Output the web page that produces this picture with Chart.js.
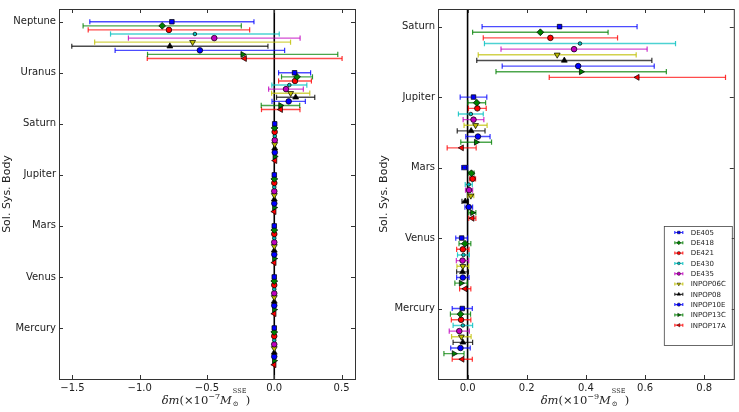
<!DOCTYPE html>
<html>
<head>
<meta charset="utf-8">
<script src="https://cdn.jsdelivr.net/npm/chart.js@4.4.0/dist/chart.umd.min.js"></script>
<style>
  body { margin: 0; background: #fff; width: 739px; height: 412px; position: relative; overflow: hidden; }
  #leftWrap { position: absolute; left: 0; top: 0; width: 369px; height: 412px; }
  #rightWrap { position: absolute; left: 369px; top: 0; width: 370px; height: 412px; }
  .xlabel { position: absolute; top: 392px; line-height: 16px; font-family: 'DejaVu Serif', 'Liberation Serif', serif; font-size: 11.5px; color: #222; white-space: nowrap; transform: translateX(-50%); }
  .xlabel i { font-style: italic; }
  .xlabel sup { font-size: 8px; vertical-align: 5px; line-height: 0; }
  .stack { display: inline-block; position: relative; width: 14px; height: 10px; vertical-align: baseline; }
  .stack .hi { position: absolute; left: 1px; top: -7px; font-size: 6.5px; line-height: 8px; }
  .stack .lo { position: absolute; left: 1px; top: 7px; font-size: 7px; line-height: 7px; }
</style>
</head>
<body>
<div id="leftWrap"><canvas id="leftChart" width="369" height="412"></canvas></div>
<div id="rightWrap"><canvas id="rightChart" width="370" height="412"></canvas></div>
<div class="xlabel" style="left:206px"><i>δm</i>(×10<sup>−7</sup><i>M</i><span class="stack"><span class="hi">SSE</span><span class="lo">⊙</span></span>)</div>
<div class="xlabel" style="left:585px"><i>δm</i>(×10<sup>−9</sup><i>M</i><span class="stack"><span class="hi">SSE</span><span class="lo">⊙</span></span>)</div>
<script>
// ephemerides, in plotting order
const ephemerides = ['DE405', 'DE418', 'DE421', 'DE430', 'DE435', 'INPOP06C', 'INPOP08', 'INPOP10E', 'INPOP13C', 'INPOP17A'];

const leftBodies = ['Mercury', 'Venus', 'Mars', 'Jupiter', 'Saturn', 'Uranus', 'Neptune'];
const rightBodies = ['Mercury', 'Venus', 'Mars', 'Jupiter', 'Saturn'];
const leftTicks = [-1.5, -1.0, -0.5, 0.0, 0.5];
const rightTicks = [0.0, 0.2, 0.4, 0.6, 0.8];

// outer planets, units of 1e-7 solar mass
const neptuneMass = [-0.761, -0.833, -0.783, -0.590, -0.446, -0.607, -0.776, -0.553, -0.235, -0.220];
const neptuneErr  = [0.610, 0.588, 0.600, 0.627, 0.638, 0.728, 0.729, 0.630, 0.707, 0.724];
const uranusMass  = [0.151, 0.169, 0.154, 0.112, 0.087, 0.122, 0.159, 0.107, 0.046, 0.048];
const uranusErr   = [0.119, 0.115, 0.122, 0.130, 0.129, 0.142, 0.142, 0.124, 0.143, 0.143];

// inner planets + saturn, units of 1e-9 solar mass
const saturnMass  = [0.311, 0.246, 0.280, 0.380, 0.360, 0.303, 0.327, 0.374, 0.384, 0.574];
const saturnErr   = [0.262, 0.229, 0.227, 0.323, 0.247, 0.267, 0.296, 0.257, 0.288, 0.298];
const jupiterMass = [0.020, 0.031, 0.033, 0.011, 0.020, 0.027, 0.012, 0.035, 0.029, -0.020];
const jupiterErr  = [0.045, 0.030, 0.030, 0.042, 0.035, 0.039, 0.047, 0.041, 0.052, 0.049];
const marsMass    = [-0.010, 0.013, 0.017, 0.004, 0.005, 0.011, -0.008, 0.004, 0.016, 0.016];
const marsErr     = [0.010, 0.009, 0.010, 0.012, 0.012, 0.010, 0.011, 0.013, 0.012, 0.012];
const venusMass   = [-0.020, -0.009, -0.016, -0.014, -0.017, -0.016, -0.017, -0.016, -0.022, -0.008];
const venusErr    = [0.020, 0.020, 0.021, 0.020, 0.021, 0.020, 0.020, 0.021, 0.021, 0.019];
const mercuryMass = [-0.018, -0.024, -0.022, -0.016, -0.028, -0.021, -0.016, -0.024, -0.046, -0.018];
const mercuryErr  = [0.034, 0.034, 0.033, 0.033, 0.034, 0.033, 0.033, 0.033, 0.034, 0.034];

// same inner bodies on the left panel, rescaled from 1e-9 to 1e-7
const toLeft = arr => arr.map(v => v / 100);

const leftVals = [toLeft(mercuryMass), toLeft(venusMass), toLeft(marsMass), toLeft(jupiterMass), toLeft(saturnMass), uranusMass, neptuneMass];
const leftErrs = [toLeft(mercuryErr), toLeft(venusErr), toLeft(marsErr), toLeft(jupiterErr), toLeft(saturnErr), uranusErr, neptuneErr];
const rightVals = [mercuryMass, venusMass, marsMass, jupiterMass, saturnMass];
const rightErrs = [mercuryErr, venusErr, marsErr, jupiterErr, saturnErr];

// styling
const rgb = ['0,0,255', '0,128,0', '255,0,0', '0,191,191', '191,0,191', '191,191,0', '0,0,0', '0,0,255', '0,128,0', '255,0,0'];
const markerStyle = ['rect', 'rectRot', 'circle', 'circle', 'circle', 'triangle', 'triangle', 'circle', 'triangle', 'triangle'];
const markerRot = [0, 0, 0, 0, 0, 180, 0, 0, 90, -90];
const markerSize = [3.2, 3.4, 2.8, 1.8, 2.8, 3.4, 3.4, 2.8, 3.4, 3.4];
const STEP = 0.08;

Chart.defaults.font.family = "'DejaVu Sans', sans-serif";
Chart.defaults.font.size = 10;
Chart.defaults.color = '#222';

function buildDatasets(vals, errs, yMax) {
    const sets = [];
    sets.push({
        data: [{ x: 0, y: -1 }, { x: 0, y: yMax }],
        showLine: true, borderColor: '#000', borderWidth: 1.6, pointRadius: 0, order: 100
    });
    ephemerides.forEach((name, i) => {
        const bars = [];
        const pts = [];
        vals.forEach((bodyVals, k) => {
            const y = k - i * STEP;
            const v = bodyVals[i], e = errs[k][i];
            bars.push({ x: v - e, y: y }, { x: v + e, y: y }, { x: null, y: null });
            pts.push({ x: v, y: y });
        });
        sets.push({
            data: bars, showLine: true, spanGaps: false,
            borderColor: `rgba(${rgb[i]},0.7)`, borderWidth: 1.4,
            pointStyle: 'line', pointRotation: 90, pointRadius: 2.6,
            pointBorderColor: `rgba(${rgb[i]},0.8)`, pointBorderWidth: 1.2, order: 10
        });
        sets.push({
            label: name, data: pts,
            pointStyle: markerStyle[i], pointRotation: markerRot[i], pointRadius: markerSize[i],
            pointBackgroundColor: `rgb(${rgb[i]})`, pointBorderColor: 'rgba(0,0,0,0.8)', pointBorderWidth: 0.9,
            order: 0
        });
    });
    return sets;
}

// box + inward ticks on all four sides
const framePlugin = {
    id: 'frame',
    afterDraw(chart) {
        const { ctx, chartArea: a, scales } = chart;
        ctx.save();
        ctx.strokeStyle = '#333';
        ctx.lineWidth = 1;
        ctx.strokeRect(a.left + 0.5, a.top + 0.5, a.right - a.left, a.bottom - a.top);
        ctx.beginPath();
        scales.x.ticks.forEach(t => {
            const px = Math.round(scales.x.getPixelForValue(t.value)) + 0.5;
            ctx.moveTo(px, a.bottom); ctx.lineTo(px, a.bottom - 4);
            ctx.moveTo(px, a.top); ctx.lineTo(px, a.top + 4);
        });
        scales.y.ticks.forEach(t => {
            const py = Math.round(scales.y.getPixelForValue(t.value)) + 0.5;
            ctx.moveTo(a.left, py); ctx.lineTo(a.left + 4, py);
            ctx.moveTo(a.right, py); ctx.lineTo(a.right - 4, py);
        });
        ctx.stroke();
        ctx.restore();
    }
};

function drawMarker(ctx, style, rot, r, x, y) {
    ctx.save();
    ctx.translate(x, y);
    ctx.rotate(rot * Math.PI / 180);
    ctx.beginPath();
    if (style === 'rect') ctx.rect(-r * 0.7, -r * 0.7, r * 1.4, r * 1.4);
    else if (style === 'rectRot') { ctx.moveTo(0, -r); ctx.lineTo(r, 0); ctx.lineTo(0, r); ctx.lineTo(-r, 0); ctx.closePath(); }
    else if (style === 'triangle') { ctx.moveTo(0, -r); ctx.lineTo(r * 0.87, r * 0.5); ctx.lineTo(-r * 0.87, r * 0.5); ctx.closePath(); }
    else ctx.arc(0, 0, r, 0, Math.PI * 2);
    ctx.fill();
    ctx.stroke();
    ctx.restore();
}

const legendPlugin = {
    id: 'boxLegend',
    afterDraw(chart) {
        const { ctx, chartArea: a } = chart;
        const w = 68, rowH = 10.3, h = 119;
        const left = a.right - 2 - w, top = a.bottom - 34 - h;
        ctx.save();
        ctx.fillStyle = '#fff';
        ctx.fillRect(left, top, w, h);
        ctx.strokeStyle = '#444';
        ctx.lineWidth = 0.8;
        ctx.strokeRect(left + 0.5, top + 0.5, w, h);
        ctx.font = "7px 'DejaVu Sans', sans-serif";
        ctx.textBaseline = 'middle';
        ephemerides.forEach((name, i) => {
            const y = top + 6.5 + i * rowH;
            const x0 = left + 11, x1 = left + 19;
            ctx.strokeStyle = `rgba(${rgb[i]},0.8)`;
            ctx.lineWidth = 1.2;
            ctx.beginPath();
            ctx.moveTo(x0, y); ctx.lineTo(x1, y);
            ctx.moveTo(x0, y - 1.5); ctx.lineTo(x0, y + 1.5);
            ctx.moveTo(x1, y - 1.5); ctx.lineTo(x1, y + 1.5);
            ctx.stroke();
            ctx.fillStyle = `rgb(${rgb[i]})`;
            ctx.strokeStyle = 'rgba(0,0,0,0.7)';
            ctx.lineWidth = 0.6;
            drawMarker(ctx, markerStyle[i], markerRot[i], Math.max(1.4, markerSize[i] * 0.6), (x0 + x1) / 2, y);
            ctx.fillStyle = '#222';
            ctx.fillText(name, left + 27, y + 0.5);
        });
        ctx.restore();
    }
};

function makeChart(id, bodies, vals, errs, xMin, xMax, xTicks, yWidth, titlePad, padRight, padTop, extraPlugins) {
    const yMax = bodies.length - 1 + 0.25;
    return new Chart(document.getElementById(id), {
        type: 'scatter',
        data: { datasets: buildDatasets(vals, errs, yMax) },
        options: {
            responsive: false,
            animation: false,
            events: [],
            layout: { padding: { top: padTop, right: padRight, left: 0, bottom: 0 } },
            plugins: { legend: { display: false }, tooltip: { enabled: false } },
            scales: {
                x: {
                    type: 'linear', min: xMin, max: xMax,
                    grid: { display: false, drawTicks: false }, border: { display: false },
                    afterBuildTicks: s => { s.ticks = xTicks.map(v => ({ value: v })); },
                    afterFit: s => { s.height = 33; },
                    ticks: {
                        padding: 3, maxRotation: 0, autoSkip: false,
                        callback: v => (v < 0 ? '\u2212' : '') + Math.abs(v).toFixed(1)
                    }
                },
                y: {
                    type: 'linear', min: -1, max: yMax,
                    grid: { display: false, drawTicks: false }, border: { display: false },
                    afterBuildTicks: s => { s.ticks = bodies.map((b, k) => ({ value: k })); },
                    afterFit: s => { s.width = yWidth; },
                    ticks: { padding: 3, autoSkip: false, callback: v => bodies[v] ?? '' },
                    title: { display: true, text: 'Sol. Sys. Body', font: { size: 11 }, padding: { top: titlePad, bottom: 0 } }
                }
            }
        },
        plugins: [framePlugin].concat(extraPlugins)
    });
}

makeChart('leftChart', leftBodies, leftVals, leftErrs, -1.6, 0.6, leftTicks, 59, 1, 14, 9, []);
makeChart('rightChart', rightBodies, rightVals, rightErrs, -0.1, 0.9, rightTicks, 69, 9, 3, 7, [legendPlugin]);
</script>
</body>
</html>
